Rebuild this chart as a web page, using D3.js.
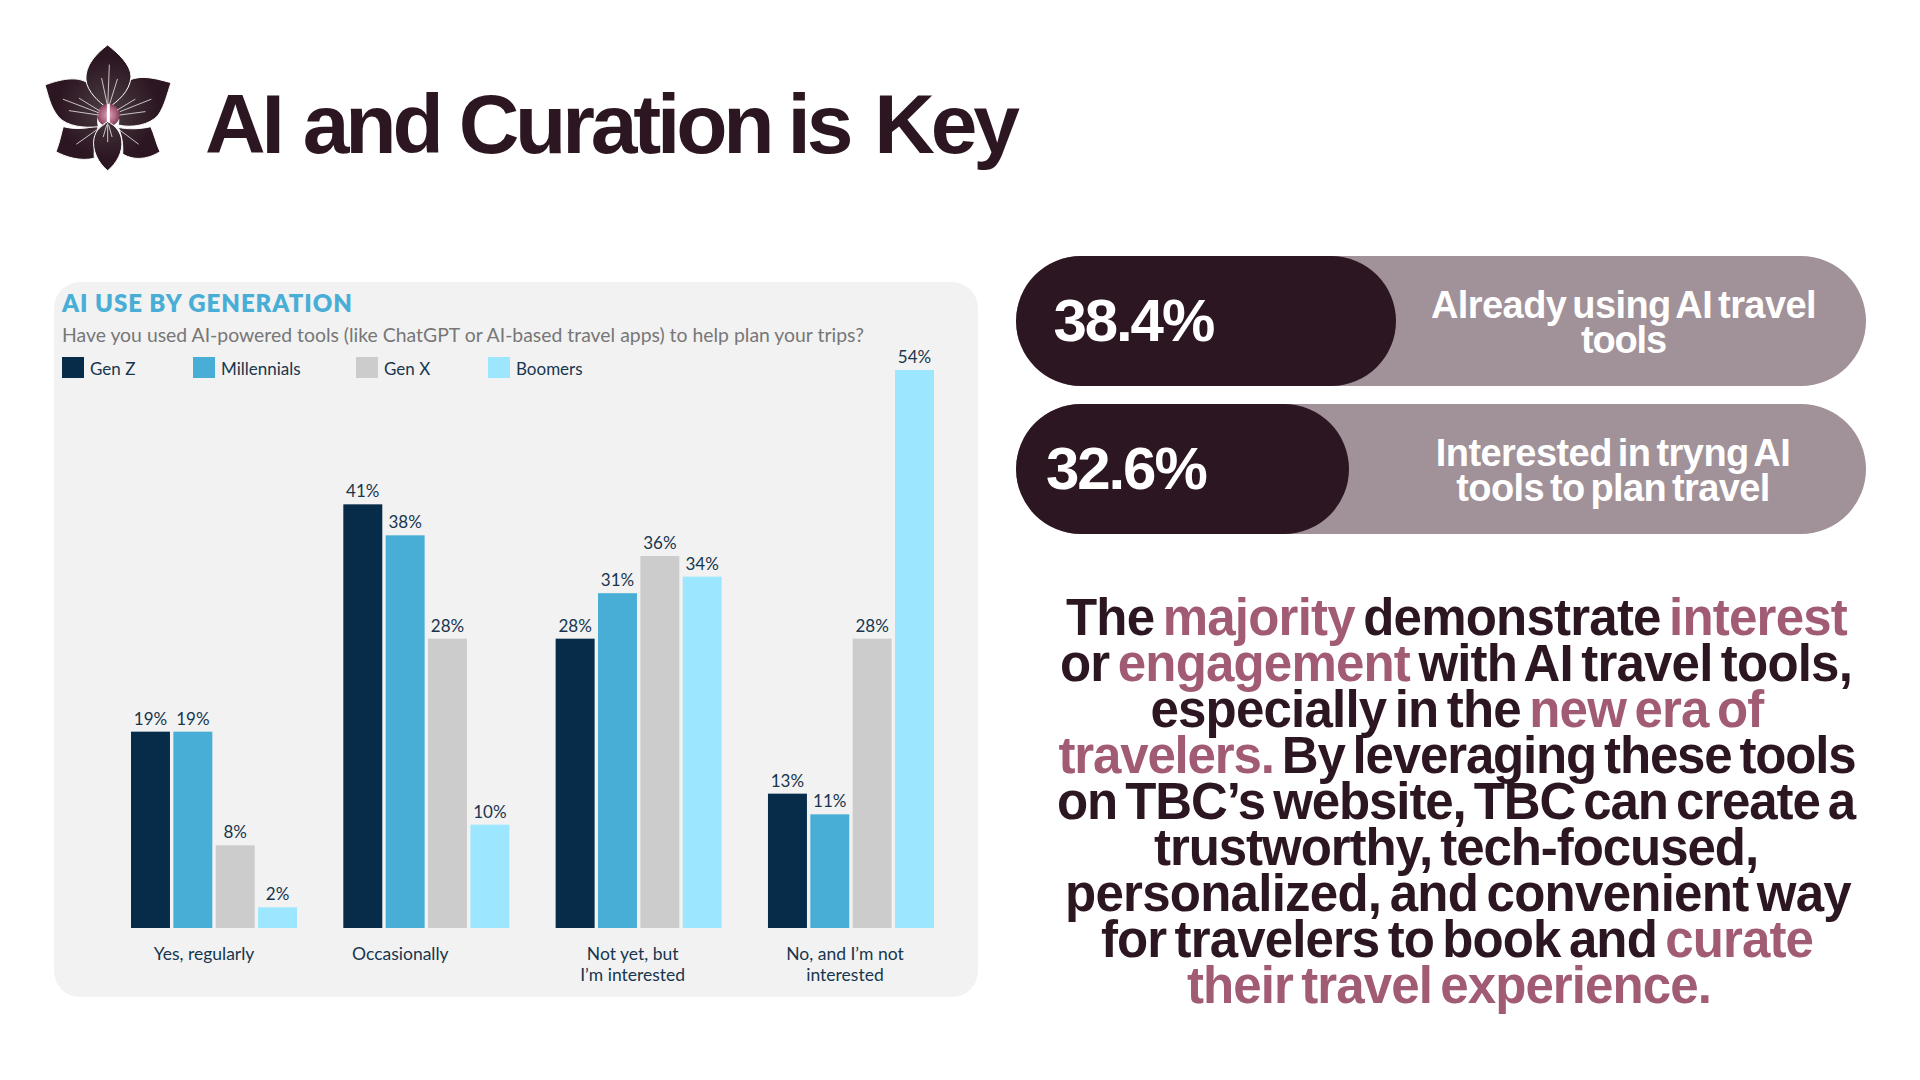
<!DOCTYPE html>
<html>
<head>
<meta charset="utf-8">
<script src="https://cdn.jsdelivr.net/npm/d3@7"></script>
<style>
  html, body { margin: 0; padding: 0; background: #fff; }
  svg { display: block; }
  text { font-kerning: normal; }
</style>
</head>
<body>
<div id="chart"></div>
<script>
// Chart data
const categories = ["Yes, regularly", "Occasionally", "Not yet, but|I\u2019m interested", "No, and I\u2019m not|interested"];
const generations = ["Gen Z", "Millennials", "Gen X", "Boomers"];
const genZ = [19, 41, 28, 13];
const millennials = [19, 38, 32.4, 11]; // third bar is drawn taller than its 31% label in the original
const millennialsLabels = [19, 38, 31, 11];
const genX = [8, 28, 36, 28];
const boomers = [2, 10, 34, 54];
const yTicks = [0, 54];

// Callouts and text
const statValues = ["38.4%", "32.6%"];
const statShares = [38.4, 32.6];
const statLabels = [["Already using AI travel", "tools"], ["Interested in tryng AI", "tools to plan travel"]];
const titleWords = ["AI", "and", "Curation", "is", "Key"];
const bodyLines = [
    [["The ", 0], ["majority ", 1], ["demonstrate ", 0], ["interest", 1]],
    [["or ", 0], ["engagement ", 1], ["with AI travel tools,", 0]],
    [["especially in the ", 0], ["new era of", 1]],
    [["travelers. ", 1], ["By leveraging these tools", 0]],
    [["on TBC\u2019s website, TBC can create a", 0]],
    [["trustworthy, tech-focused,", 0]],
    [["personalized, and convenient way", 0]],
    [["for travelers to book and ", 0], ["curate", 1]],
    [["their travel experience.", 1]]
];

const seriesValues = [genZ, millennials, genX, boomers];
const seriesLabels = [genZ, millennialsLabels, genX, boomers];
const barColors = ["#062c49", "#49aed6", "#cccccc", "#9ce6ff"];
const dark = "#2c1622";
const pink = "#a25b74";
const inkBlue = "#17364e";
const display = "'Liberation Sans', Arial, sans-serif";
const panelFont = "Lato, 'Open Sans', sans-serif";

const svg = d3.select("#chart").append("svg").attr("width", 1920).attr("height", 1080);
const defs = svg.append("defs");

// Squeeze a line to a given width by changing its letter spacing
const fitWidth = (sel, width) => {
    const node = sel.node();
    const chars = node.textContent.length;
    const current = parseFloat(sel.attr("letter-spacing")) || 0;
    const delta = (width - node.getComputedTextLength()) / chars;
    sel.attr("letter-spacing", current + delta);
};

// Logo
const petalGlow = defs.append("radialGradient").attr("id", "petalGlow")
    .attr("gradientUnits", "userSpaceOnUse").attr("cx", 233).attr("cy", 235).attr("r", 200);
petalGlow.append("stop").attr("offset", "0").attr("stop-color", "#4a3d42");
petalGlow.append("stop").attr("offset", "0.75").attr("stop-color", "#2c1622");
const lip = defs.append("radialGradient").attr("id", "lip");
lip.append("stop").attr("offset", "0").attr("stop-color", "#d9a9ba");
lip.append("stop").attr("offset", "0.7").attr("stop-color", "#a9607c");
lip.append("stop").attr("offset", "1").attr("stop-color", "#7a4058");

const petals = [
    "M78,365C90,335 95,305 100,290C140,300 180,295 205,285C200,315 190,350 193,385C150,395 105,380 78,365Z",
    "M390,365C378,340 372,310 362,290C330,298 290,298 265,292C275,315 280,345 278,372C315,395 360,385 390,365Z",
    "M45,165C85,150 140,135 175,160C200,180 215,210 222,232C205,245 200,265 205,290C165,295 110,290 85,260C60,230 55,195 45,165Z",
    "M423,158C385,148 330,130 290,155C262,180 250,210 245,232C262,245 270,265 265,285C305,295 360,285 385,255C405,225 412,190 423,158Z",
    "M233,45C200,70 165,105 168,150C172,185 205,215 233,235C262,215 300,185 303,140C303,105 265,70 233,45Z"
];
const bottomPetal = "M233,422C205,400 185,360 192,325C197,300 215,285 233,275C255,285 272,305 275,330C280,365 260,400 233,422Z";
const streaks = [
    "M238,105L233,235", "M215,145L232,225", "M262,148L238,225",
    "M100,208L205,248", "M148,205L208,242", "M118,242L205,255",
    "M363,208L270,245", "M315,208L262,240", "M345,245L270,255",
    "M140,342L225,282", "M325,342L245,282", "M233,335L233,280", "M220,320L230,285", "M246,320L236,285"
];

const logo = svg.append("g").attr("transform", "translate(30,30) scale(0.3333)");
logo.selectAll("path.petal").data(petals).enter().append("path")
    .attr("class", "petal").attr("d", d => d)
    .attr("fill", "url(#petalGlow)").attr("stroke", "#fff").attr("stroke-width", 3);
logo.append("circle").attr("cx", 235).attr("cy", 255).attr("r", 34).attr("fill", "url(#lip)");
logo.append("path").attr("d", "M235,226L235,280")
    .attr("stroke", "#fff").attr("stroke-width", 9).attr("stroke-linecap", "round");
logo.append("path").attr("d", bottomPetal)
    .attr("fill", "url(#petalGlow)").attr("stroke", "#fff").attr("stroke-width", 3);
logo.selectAll("path.streak").data(streaks).enter().append("path")
    .attr("class", "streak").attr("d", d => d)
    .attr("stroke", "#e9e2e5").attr("stroke-width", 2.5).attr("fill", "none").attr("stroke-linecap", "round");

// Title, the gaps between words are uneven in the original
const titleGaps = [0, 3, 0, -2, 6];
const title = svg.append("text").attr("x", 205).attr("y", 153)
    .attr("font-family", display).attr("font-weight", 700).attr("font-size", 84)
    .attr("letter-spacing", "-0.05em").attr("fill", dark);
title.selectAll("tspan").data(titleWords).enter().append("tspan")
    .attr("dx", (d, i) => titleGaps[i])
    .text((d, i) => (i < titleWords.length - 1 ? d + " " : d));

// Panel
svg.append("rect").attr("x", 54).attr("y", 282).attr("width", 924).attr("height", 715)
    .attr("rx", 26).attr("fill", "#f2f2f2");
svg.append("text").attr("x", 62).attr("y", 311.5)
    .attr("font-family", panelFont).attr("font-weight", 800).attr("font-size", 24)
    .attr("letter-spacing", "0.04em").attr("fill", "#49aed6").text("AI USE BY GENERATION");
svg.append("text").attr("x", 62).attr("y", 342)
    .attr("font-family", panelFont).attr("font-size", 19.4).attr("fill", "#777")
    .text("Have you used AI-powered tools (like ChatGPT or AI-based travel apps) to help plan your trips?");

// Legend
const legendStarts = [62, 193, 356, 488];
const legend = svg.append("g").selectAll("g").data(generations).enter().append("g")
    .attr("transform", (d, i) => `translate(${legendStarts[i]},357)`);
legend.append("rect").attr("width", 22).attr("height", 21).attr("fill", (d, i) => barColors[i]);
legend.append("text").attr("x", 28).attr("y", 18)
    .attr("font-family", panelFont).attr("font-size", 17).attr("fill", inkBlue).text(d => d);

// Scales
const x0 = d3.scaleBand().domain(categories).range([131, 934]).paddingInner(0.218);
const x1 = d3.scaleBand().domain(generations).range([0, x0.bandwidth()]).paddingInner(0.08);
const y = d3.scaleLinear().domain(yTicks).range([928, 370]);

// Bars and their labels
const groups = svg.append("g").selectAll("g").data(categories).enter().append("g")
    .attr("transform", d => `translate(${x0(d)},0)`);
generations.forEach((gen, s) => {
    groups.append("rect")
        .attr("x", x1(gen))
        .attr("y", (d, i) => y(seriesValues[s][i]))
        .attr("width", x1.bandwidth())
        .attr("height", (d, i) => y(0) - y(seriesValues[s][i]))
        .attr("fill", barColors[s]);
    groups.append("text")
        .attr("x", x1(gen) + x1.bandwidth() / 2)
        .attr("y", (d, i) => y(seriesValues[s][i]) - 7)
        .attr("text-anchor", "middle")
        .attr("font-family", panelFont).attr("font-size", 17).attr("fill", inkBlue)
        .text((d, i) => seriesLabels[s][i] + "%");
});

// Category axis, the labels sit a bit left of the group centres in the original
const labelNudge = [-10, -26, -6, -6];
const axis = svg.append("g").attr("transform", "translate(0,928)")
    .call(d3.axisBottom(x0).tickSize(0).tickFormat(""));
axis.select(".domain").remove();
axis.selectAll(".tick text").remove();
axis.selectAll(".tick").each(function (d, i) {
    const label = d3.select(this).append("text")
        .attr("text-anchor", "middle")
        .attr("font-family", panelFont).attr("font-size", 17.5).attr("fill", inkBlue);
    d.split("|").forEach((line, k) => {
        label.append("tspan").attr("x", labelNudge[i]).attr("y", 32 + k * 21).text(line);
    });
});

// Stat pills
const darkWidth = d3.scaleLinear().domain([32.6, 38.4]).range([333, 380]);
const pillTops = [256, 404];
const pillInk = [1053.5, 1046];
const pillLabelX = [1623.5, 1613];
const pillLabelWidths = [[385, 85], [354.5, 313.5]];
const pills = svg.append("g").selectAll("g").data(statValues).enter().append("g");
pills.append("rect").attr("x", 1016).attr("y", (d, i) => pillTops[i])
    .attr("width", 850).attr("height", 130).attr("rx", 65).attr("fill", "#a19198");
pills.append("rect").attr("x", 1016).attr("y", (d, i) => pillTops[i])
    .attr("width", (d, i) => darkWidth(statShares[i])).attr("height", 130).attr("rx", 65).attr("fill", dark);
pills.append("text").attr("x", (d, i) => pillInk[i]).attr("y", (d, i) => pillTops[i] + 85)
    .attr("font-family", display).attr("font-weight", 700).attr("font-size", 60)
    .attr("letter-spacing", "-0.035em").attr("fill", "#fff").text(d => d);
pills.each(function (d, i) {
    d3.select(this).selectAll("text.lab").data(statLabels[i]).enter().append("text")
        .attr("class", "lab").attr("x", pillLabelX[i]).attr("y", (t, k) => pillTops[i] + 62 + k * 34.5)
        .attr("text-anchor", "middle")
        .attr("font-family", display).attr("font-weight", 700).attr("font-size", 38)
        .attr("letter-spacing", -1.5).attr("word-spacing", -4).attr("fill", "#fff").text(t => t)
        .each(function (t, k) { fitWidth(d3.select(this), pillLabelWidths[i][k]); });
});

// Body copy
const bodyWidths = [781, 792, 613, 797, 798, 604, 786, 712, 524];
const bodyCentres = [1456.5, 1456, 1457, 1457, 1456, 1456, 1458, 1457, 1449];
const body = svg.append("g").selectAll("text").data(bodyLines).enter().append("text")
    .attr("x", (d, i) => bodyCentres[i]).attr("y", (d, i) => 635 + i * 46)
    .attr("text-anchor", "middle")
    .attr("font-family", display).attr("font-weight", 700).attr("font-size", 51)
    .attr("letter-spacing", -2).attr("word-spacing", -5).attr("xml:space", "preserve");
body.selectAll("tspan").data(d => d).enter().append("tspan")
    .attr("fill", d => d[1] ? pink : dark).text(d => d[0]);
body.each(function (d, i) { fitWidth(d3.select(this), bodyWidths[i]); });
</script>
</body>
</html>
